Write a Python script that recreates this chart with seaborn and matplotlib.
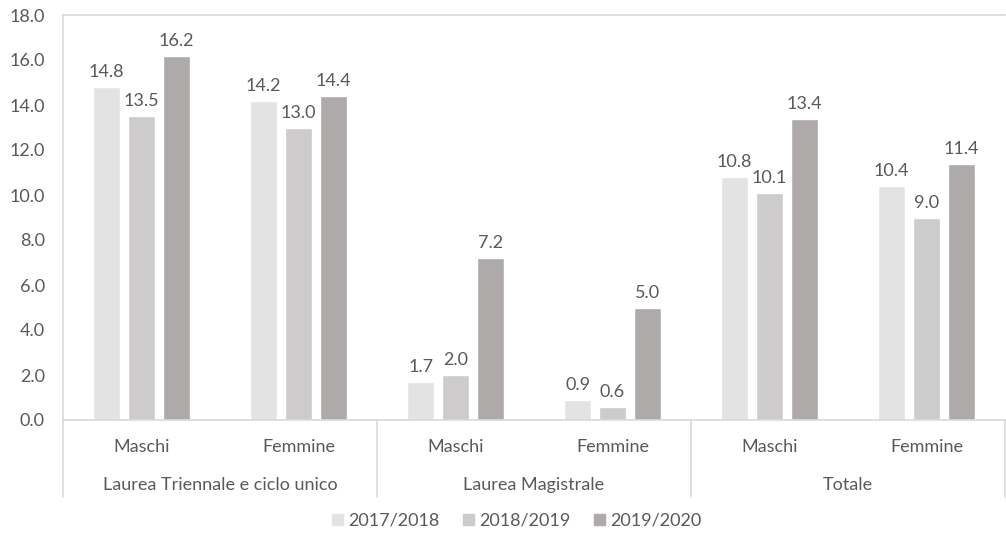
import pandas as pd
import numpy as np
import matplotlib.pyplot as plt
import seaborn as sns

# data
groups = ['Laurea Triennale e ciclo unico', 'Laurea Magistrale', 'Totale']
sexes = ['Maschi', 'Femmine']
years = ['2017/2018', '2018/2019', '2019/2020']
vals_2017 = [14.8, 14.2, 1.7, 0.9, 10.8, 10.4]
vals_2018 = [13.5, 13.0, 2.0, 0.6, 10.1, 9.0]
vals_2019 = [16.2, 14.4, 7.2, 5.0, 13.4, 11.4]

colors = ['#E3E3E3', '#CDCBCB', '#AEAAAA']
text_col = '#595959'
line_col = '#D9D9D9'
fs = 13

cats = [f'{g}|{s}' for g in groups for s in sexes]
rows = []
for year, vals in zip(years, [vals_2017, vals_2018, vals_2019]):
    for c, v in zip(cats, vals):
        rows.append({'cat': c, 'year': year, 'value': v})
df = pd.DataFrame(rows)

sns.set_style('white')
plt.rcParams['font.family'] = ['Lato', 'DejaVu Sans']

fig = plt.figure(figsize=(10.06, 5.36), dpi=100)
ax = fig.add_axes([63 / 1006, 1 - 420 / 536, (1005 - 63) / 1006, 405 / 536])

sns.barplot(data=df, x='cat', y='value', hue='year', order=cats, hue_order=years,
            palette=colors, width=0.666, gap=0.23, ax=ax, legend=False,
            saturation=1, errorbar=None)

for cont in ax.containers:
    ax.bar_label(cont, fmt='%.1f', padding=5, fontsize=fs, color=text_col)

ax.set_ylim(0, 18)
ax.set_xlim(-0.5, len(cats) - 0.5)
ax.set_yticks(np.arange(0, 18.1, 2))
ax.set_yticklabels([f'{t:.1f}' for t in np.arange(0, 18.1, 2)], fontsize=fs, color=text_col)
ax.set_xticks(range(len(cats)))
ax.set_xticklabels([c.split('|')[1] for c in cats], fontsize=fs, color=text_col)
ax.tick_params(axis='both', length=0)
ax.tick_params(axis='x', pad=14)
ax.tick_params(axis='y', pad=13)
ax.set_xlabel('')
ax.set_ylabel('')

for side in ['left', 'top', 'bottom']:
    ax.spines[side].set_color(line_col)
    ax.spines[side].set_linewidth(1.2)
ax.spines['right'].set_visible(False)

# group labels and separators below the category axis
trans = ax.get_xaxis_transform()
for i, g in enumerate(groups):
    ax.text(2 * i + 0.5, -0.16, g, transform=trans, ha='center', va='center',
            fontsize=fs, color=text_col)
for x in [-0.5, 1.5, 3.5, 5.5]:
    ax.plot([x, x], [0, -0.19], transform=trans, color=line_col, lw=1.2, clip_on=False)

handles = [plt.Rectangle((0, 0), 1, 1, color=c) for c in colors]
fig.legend(handles, years, loc='center', bbox_to_anchor=(517 / 1006, 1 - 521 / 536),
           ncol=3, frameon=False, fontsize=fs, handlelength=0.6, handleheight=0.6,
           handletextpad=0.3, columnspacing=1.3, labelcolor=text_col)

fig.savefig('out.png', dpi=100)
